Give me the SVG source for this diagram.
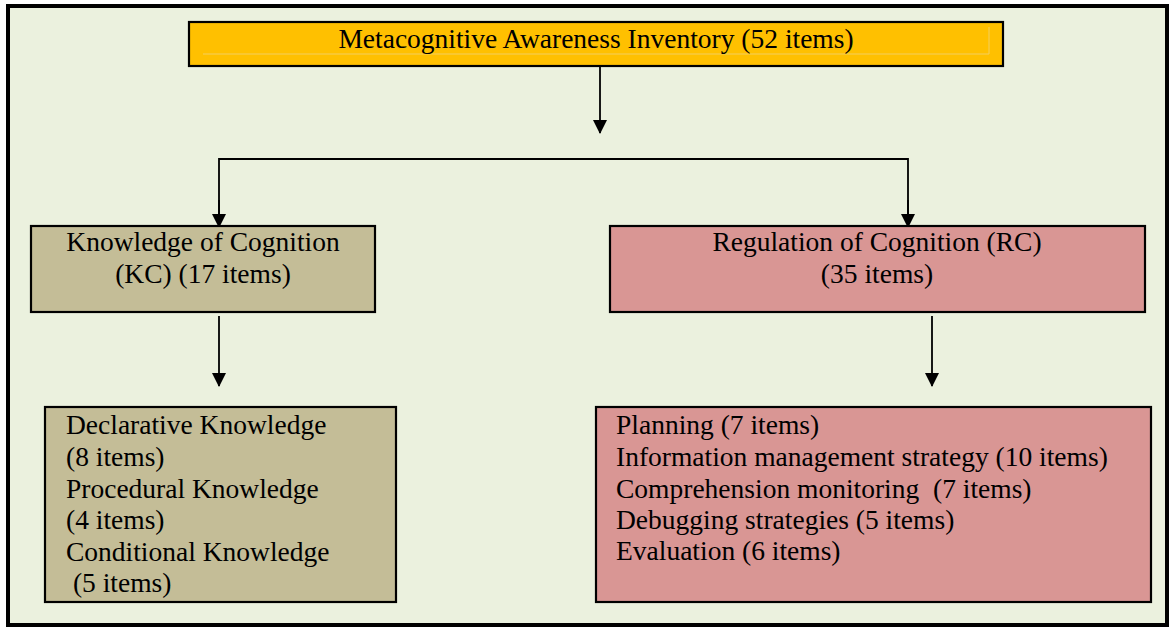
<svg xmlns="http://www.w3.org/2000/svg" width="1170" height="628" viewBox="0 0 1170 628">
<defs>
<style>
.box{stroke:#000;stroke-width:2.2}
.t{font-family:"Liberation Serif","Times New Roman",serif;font-size:27.5px;fill:#000}
.c{text-anchor:middle}
.ln{stroke:#000;stroke-width:1.8;fill:none}
</style>
<marker id="ah" markerWidth="14" markerHeight="14" refX="13" refY="7" orient="auto" markerUnits="userSpaceOnUse">
<path d="M0,0 L14,7 L0,14 Z" fill="#000"/>
</marker>
</defs>
<rect x="0" y="0" width="1170" height="628" fill="#ffffff"/>
<rect id="frame" x="8" y="6" width="1159" height="619" fill="#ebf1de" stroke="#000" stroke-width="4"/>

<g id="connectors">
<line class="ln" x1="600" y1="67" x2="600" y2="133" marker-end="url(#ah)"/>
<polyline class="ln" points="219,225 219,159 908,159 908,225" />
<line class="ln" x1="219" y1="200" x2="219" y2="227" marker-end="url(#ah)"/>
<line class="ln" x1="908" y1="200" x2="908" y2="227" marker-end="url(#ah)"/>
<line class="ln" x1="219" y1="316" x2="219" y2="386" marker-end="url(#ah)"/>
<line class="ln" x1="932" y1="316" x2="932" y2="386" marker-end="url(#ah)"/>
</g>

<g id="mai">
<rect class="box" x="189" y="22" width="814" height="44" fill="#ffc000"/>
<polyline points="203,54 989,54 989,27" fill="none" stroke="#f3cf5e" stroke-width="1"/>
<text class="t c" x="596" y="48">Metacognitive Awareness Inventory (52 items)</text>
</g>

<g id="kc">
<rect class="box" x="31" y="226" width="344" height="86" fill="#c4bd97"/>
<text class="t c" x="203" y="251">Knowledge of Cognition</text>
<text class="t c" x="203" y="283">(KC) (17 items)</text>
</g>

<g id="rc">
<rect class="box" x="610" y="226" width="535" height="86" fill="#d99694"/>
<text class="t c" x="877" y="251">Regulation of Cognition (RC)</text>
<text class="t c" x="877" y="283">(35 items)</text>
</g>

<g id="kc-sub">
<rect class="box" x="45" y="407" width="351" height="195" fill="#c4bd97"/>
<text class="t" x="66" y="434">Declarative Knowledge</text>
<text class="t" x="66" y="466">(8 items)</text>
<text class="t" x="66" y="498">Procedural Knowledge</text>
<text class="t" x="66" y="529">(4 items)</text>
<text class="t" x="66" y="561">Conditional Knowledge</text>
<text class="t" x="66" y="592" xml:space="preserve"> (5 items)</text>
</g>

<g id="rc-sub">
<rect class="box" x="596" y="407" width="555" height="195" fill="#d99694"/>
<text class="t" x="616" y="434">Planning (7 items)</text>
<text class="t" x="616" y="466">Information management strategy (10 items)</text>
<text class="t" x="616" y="498" xml:space="preserve">Comprehension monitoring  (7 items)</text>
<text class="t" x="616" y="529">Debugging strategies (5 items)</text>
<text class="t" x="616" y="560">Evaluation (6 items)</text>
</g>
</svg>
